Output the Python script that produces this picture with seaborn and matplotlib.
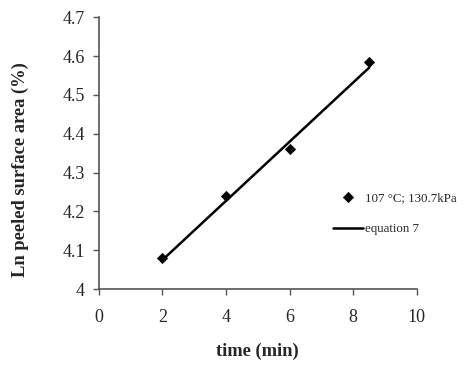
import numpy as np
import pandas as pd
import matplotlib.pyplot as plt
import seaborn as sns

# dados
time_exp = [2, 4, 6, 8.5]
ln_area_exp = [4.08, 4.24, 4.36, 4.585]
time_eq = [2, 8.5]
ln_area_eq = [4.075, 4.57]

x_ticks = [0, 2, 4, 6, 8, 10]
y_ticks = [4, 4.1, 4.2, 4.3, 4.4, 4.5, 4.6, 4.7]

sns.set_style('ticks')
plt.rcParams['font.family'] = ['Liberation Serif', 'DejaVu Serif']

df_exp = pd.DataFrame({'time': time_exp, 'ln': ln_area_exp})
df_eq = pd.DataFrame({'time': time_eq, 'ln': ln_area_eq})

fig = plt.figure(figsize=(4.71, 3.65), dpi=100)
ax = fig.add_axes([0.210, 0.208, 0.675, 0.745])

sns.lineplot(data=df_eq, x='time', y='ln', color='black', linewidth=1.8,
             label='equation 7', ax=ax)
sns.scatterplot(data=df_exp, x='time', y='ln', marker='D', color='black', s=28,
                edgecolor='black', label='107 °C; 130.7kPa', ax=ax, zorder=3)

ax.set_xlim(0, 10)
ax.set_ylim(4, 4.7)
ax.set_xticks(x_ticks)
ax.set_xticklabels([str(t) for t in x_ticks])
ax.set_yticks(y_ticks)
ax.set_yticklabels(['4'] + [f'{t:.1f}' for t in y_ticks[1:]])
ax.tick_params(labelsize=13, color='#555555', length=4, width=1, pad=6)
ax.tick_params(axis='x', pad=10)
for s in ['top', 'right']:
    ax.spines[s].set_visible(False)
for s in ['left', 'bottom']:
    ax.spines[s].set_color('#555555')
    ax.spines[s].set_linewidth(1.2)

ax.set_xlabel('time (min)', fontsize=13.3, fontweight='bold', labelpad=12)
ax.set_ylabel('Ln peeled surface area (%)', fontsize=13.3, fontweight='bold')
ax.yaxis.set_label_coords(-0.22, 0.44)

h, l = ax.get_legend_handles_labels()
ax.legend(h[::-1], l[::-1], loc='upper left', bbox_to_anchor=(0.737, 0.358),
          frameon=False, fontsize=9.3, handlelength=2.3, handletextpad=0.15,
          labelspacing=1.5, borderaxespad=0, borderpad=0)

plt.savefig('out.png', dpi=100)
